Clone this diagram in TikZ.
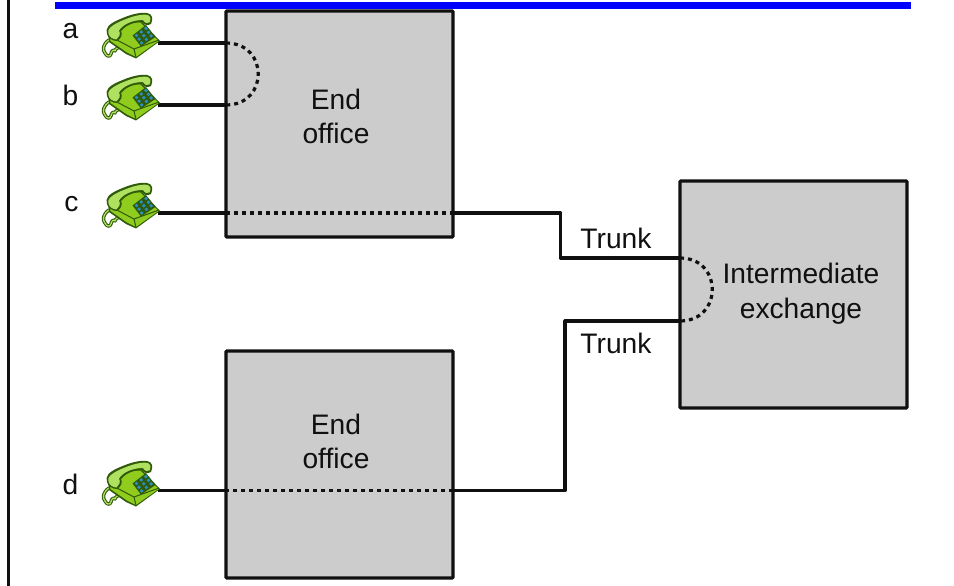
\documentclass[tikz,border=0pt]{standalone}
\usepackage{fontspec}
\setmainfont{Liberation Sans}
\definecolor{boxgray}{HTML}{CCCCCC}
\definecolor{phonegreen}{HTML}{8FCC1E}
\definecolor{phonelight}{HTML}{B0E060}
\definecolor{phonedark}{HTML}{2F5A0A}
\definecolor{phonekey}{HTML}{2A90C0}
\definecolor{inkblack}{HTML}{101010}
\tikzset{
  x=1bp,y=-1bp,
  officebox/.style={draw=inkblack,line width=3.2bp,fill=boxgray,rounded corners=0.8bp,inner sep=0pt,outer sep=0pt},
  lbl/.style={font=\fontsize{28.3}{34}\selectfont,text=inkblack,inner sep=0pt,anchor=base},
  wire/.style={draw=inkblack,line width=3.2bp},
  dotwire/.style={draw=inkblack,line width=3.2bp,dash pattern=on 4bp off 4bp},
  phone/.pic={
    % cord
    \draw[phonedark,line width=3.4bp,line cap=round,line join=round]
      (6,27) .. controls (0,31) and (-1,37) .. (2,40)
      .. controls (4,44) and (7,44) .. (8,41)
      .. controls (8,38) and (11,36) .. (12,38)
      .. controls (12,36) and (15,34) .. (19,34);
    \draw[phonelight,line width=1.4bp,line cap=round,line join=round,dash pattern=on 2bp off 1bp]
      (6,27) .. controls (0,31) and (-1,37) .. (2,40)
      .. controls (4,44) and (7,44) .. (8,41)
      .. controls (8,38) and (11,36) .. (12,38)
      .. controls (12,36) and (15,34) .. (19,34);
    % body
    \fill[phonedark] (5,20) -- (25,8) -- (38,8) -- (57,28) -- (33,45.5) -- (23,41) -- (6,29) -- cycle;
    \fill[phonegreen] (6.5,21) -- (26,9.5) -- (37.5,9.5) -- (55.5,28) -- (33,44) -- (24,39.5) -- (7.5,28) -- cycle;
    \draw[phonedark,line width=1bp] (31,36) -- (33,44.5) (31,36) -- (56,27) (12,26) -- (31,36);
    % keypad
    \fill[phonedark] (29.5,22.5) -- (43,12) -- (52.5,24) -- (38,33.5) -- cycle;
    \foreach \i in {0,1,2}{\foreach \j in {0,1,2}{
      \fill[phonekey] ({33.5+\i*4.7+\j*2.6},{22.5+\i*(-3.5)+\j*3.7}) circle[radius=1.9bp];}}
    % handset
    \fill[phonedark] (4,21) .. controls (2,15) and (6,11) .. (15,7)
      .. controls (26,2) and (36,-1) .. (44,0)
      .. controls (50,1) and (50,6) .. (48,11)
      .. controls (44,13) and (41,12) .. (39,9)
      .. controls (30,9) and (22,13) .. (18,18)
      .. controls (20,21) and (18,26) .. (14,28)
      .. controls (9,28) and (5,25) .. (4,21) -- cycle;
    \fill[phonelight] (5.5,20.5) .. controls (4,16) and (8,13) .. (16,9)
      .. controls (26,4.5) and (36,1) .. (44,1.8)
      .. controls (48,3) and (48,6) .. (46.5,9.5)
      .. controls (44,11) and (42,10) .. (40,7)
      .. controls (30,7) and (20,11) .. (16,17.5)
      .. controls (18,21) and (16,24.5) .. (13.5,26.5)
      .. controls (9,26) and (6.5,24) .. (5.5,20.5) -- cycle;
  }
}
\begin{document}
\begin{tikzpicture}
\useasboundingbox (0,0) rectangle (954,586);
\fill[white] (0,0) rectangle (954,586);
% frame parts of the slide
\fill[blue] (55,2) rectangle (911,9);
\draw[inkblack,line width=3bp] (8,0) -- (8,586);
% boxes
\node[officebox,minimum width=227bp,minimum height=226bp] (eoA) at (339.5,124) {};
\node[officebox,minimum width=227bp,minimum height=227bp] (eoB) at (339.5,464.5) {};
\node[officebox,minimum width=227bp,minimum height=227bp] (ix) at (793.5,294.5) {};
% labels
\node[lbl] (la) at (70.5,39) {a};
\node[lbl] (lb) at (70.5,106) {b};
\node[lbl] (lc) at (71.5,212) {c};
\node[lbl] (ld) at (70.5,494) {d};
\node[lbl] (t1) at (336,110) {End};
\node[lbl] (t2) at (336,144) {office};
\node[lbl] (t3) at (336,434) {End};
\node[lbl] (t4) at (336,468) {office};
\node[lbl] (t5) at (801,284) {Intermediate};
\node[lbl] (t6) at (801,318) {exchange};
\node[lbl] (t7) at (616,249) {Trunk};
\node[lbl] (t8) at (616,353) {Trunk};
% anchor points
\coordinate (pa) at (158,43);
\coordinate (pb) at (158,105);
\coordinate (pc) at (158,213);
\coordinate (pd) at (158,490.5);
\coordinate (ain) at (226,43);
\coordinate (bin) at (226,105);
\coordinate (cin) at (226,213);
\coordinate (cout) at (453,213);
\coordinate (c1) at (560.5,213);
\coordinate (c2) at (560.5,258);
\coordinate (xa) at (680,258);
\coordinate (xb) at (680,321);
\coordinate (d1) at (565,321);
\coordinate (d2) at (565,490.5);
\coordinate (dout) at (453,490.5);
\coordinate (din) at (226,490.5);
% wires
\draw[wire] (pa) -- (ain);
\draw[wire] (pb) -- (bin);
\draw[dotwire] (ain) .. controls +(43,0) and +(43,0) .. (bin);
\draw[wire] (pc) -- (cin);
\draw[dotwire] (cin) -- (cout);
\draw[wire,line join=round] (cout) -- (c1) -- (c2) -- (xa);
\draw[dotwire] (xa) .. controls +(43,0) and +(43,0) .. (xb);
\draw[wire,line join=round] (xb) -- (d1) -- (d2) -- (dout);
\draw[dotwire] (dout) -- (din);
\draw[wire] (din) -- (pd);
% phones
\pic at (103,13) {phone};
\pic at (103,75) {phone};
\pic at (103,183) {phone};
\pic at (103,461) {phone};
\end{tikzpicture}
\end{document}
